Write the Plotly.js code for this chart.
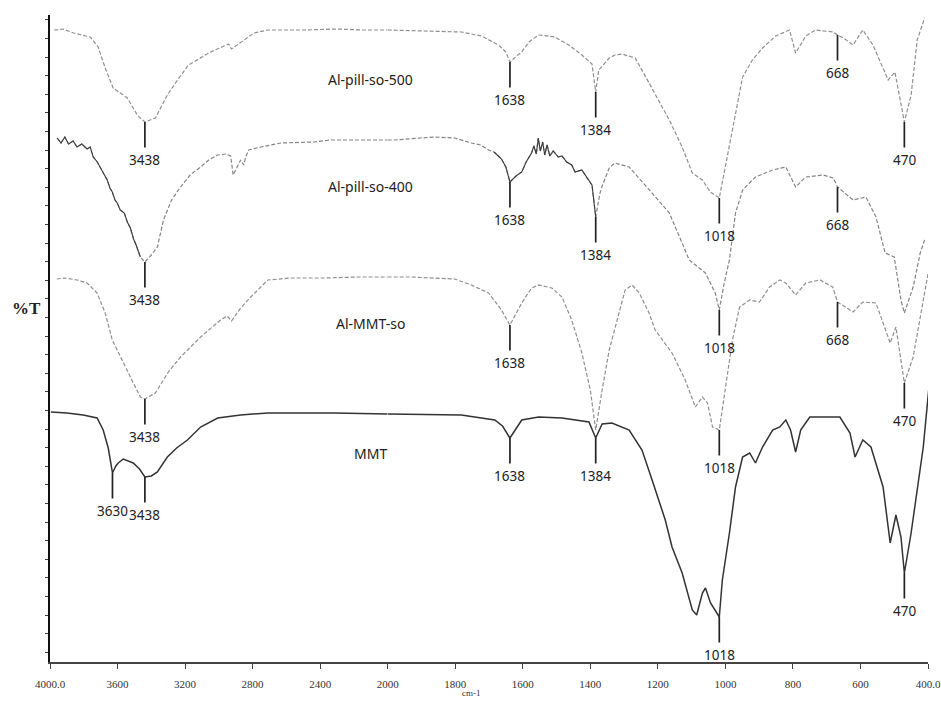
<!DOCTYPE html>
<html>
<head>
<meta charset="utf-8">
<script src="https://cdn.plot.ly/plotly-3.0.1.min.js"></script>
<style>
  html, body { margin: 0; padding: 0; background: #fff; }
  #chart { width: 941px; height: 702px; }
</style>
</head>
<body>
<div id="chart"></div>
<script>
// FTIR spectra, wavenumber (cm-1) against stacked transmittance (arbitrary units).
// The axis is split at 2000 cm-1: 4000-2000 compressed, 2000-400 expanded.

// Al-pill-so-500
const wn500 = [3975, 3923, 3860, 3762, 3715, 3673, 3626, 3542, 3483, 3438,
               3376, 3305, 3245, 3180, 3049, 2942, 2925, 2853, 2793, 2710,
               2500, 2300, 2157, 2000, 1782, 1722, 1672, 1650, 1638, 1615,
               1603, 1582, 1553, 1505, 1464, 1425, 1395, 1384, 1375, 1344,
               1327, 1306, 1267, 1226, 1166, 1128, 1098, 1068, 1044, 1018,
               1000, 979, 949, 920, 890, 851, 810, 792, 762, 733,
               680, 668, 650, 622, 593, 563, 518, 498, 480, 470,
               450, 432, 410];
const t500 = [632, 633, 629, 625, 615, 594, 574, 564, 547, 540,
              544, 567, 582, 597, 610, 618, 613, 622, 629, 632,
              632, 633, 632, 632, 630, 626, 617, 610, 600, 607,
              610, 620, 627, 625, 617, 607, 598, 570, 592, 604,
              607, 608, 604, 579, 542, 515, 489, 482, 470, 464,
              495, 535, 585, 602, 614, 626, 632, 609, 626, 632,
              630, 627, 624, 617, 632, 617, 582, 590, 560, 540,
              567, 622, 644];

// Al-pill-so-400
const wn400 = [3958, 3935, 3912, 3890, 3863, 3840, 3812, 3780, 3762, 3744,
               3720, 3700, 3685, 3661, 3645, 3631, 3615, 3602, 3584, 3560,
               3542, 3524, 3505, 3490, 3465, 3438, 3400, 3364, 3328, 3280,
               3227, 3170, 3108, 3060, 3007, 2960, 2930, 2915, 2871, 2853,
               2841, 2823, 2752, 2633, 2437, 2336, 2116, 2000, 1981, 1862,
               1802, 1752, 1725, 1701, 1685, 1663, 1650, 1638, 1620, 1603,
               1590, 1574, 1567, 1560, 1554, 1548, 1541, 1535, 1528, 1520,
               1510, 1495, 1484, 1470, 1455, 1445, 1425, 1410, 1395, 1384,
               1372, 1365, 1344, 1327, 1285, 1230, 1166, 1107, 1059, 1030,
               1018, 1004, 988, 970, 949, 911, 860, 821, 792, 762,
               711, 680, 668, 622, 584, 554, 527, 500, 480, 470,
               444, 423, 408];
const t400 = [524, 519, 525, 518, 521, 515, 518, 513, 515, 505,
              500, 494, 488, 482, 474, 470, 462, 459, 452, 449,
              440, 434, 423, 417, 405, 400, 407, 415, 442, 462,
              475, 487, 495, 502, 507, 508, 506, 487, 502, 497,
              505, 512, 515, 519, 520, 522, 522, 522, 522, 525,
              524, 519, 517, 512, 510, 503, 495, 480, 486, 490,
              500, 509, 516, 508, 524, 511, 520, 507, 517, 506,
              511, 505, 506, 500, 497, 490, 492, 484, 477, 445,
              468, 476, 494, 499, 495, 474, 449, 402, 389, 369,
              352, 378, 402, 449, 472, 485, 492, 495, 475, 485,
              487, 484, 475, 462, 465, 445, 409, 405, 362, 349,
              375, 409, 424];
// noisy stretches of the 400 spectrum, drawn darker
const darkBands400 = [[3958, 3445], [1700, 1380]];

// Al-MMT-so
const wnMMTso = [3960, 3911, 3840, 3780, 3721, 3673, 3631, 3584, 3524, 3465,
                 3438, 3376, 3299, 3227, 3108, 2990, 2950, 2925, 2871, 2811,
                 2710, 2573, 2377, 2175, 2000, 1930, 1802, 1752, 1701, 1663,
                 1638, 1603, 1574, 1553, 1514, 1484, 1455, 1425, 1400, 1384,
                 1365, 1344, 1315, 1297, 1276, 1255, 1226, 1208, 1158, 1119,
                 1089, 1068, 1053, 1038, 1018, 1000, 979, 958, 928, 899,
                 869, 839, 821, 792, 762, 720, 682, 668, 622, 593,
                 554, 533, 512, 495, 470, 444, 414, 399];
const tMMTso = [383, 384, 382, 379, 369, 349, 322, 305, 285, 265,
                263, 269, 290, 305, 325, 342, 346, 341, 354, 365,
                382, 384, 384, 385, 385, 385, 383, 377, 369, 352,
                337, 359, 374, 377, 374, 365, 342, 309, 272, 232,
                272, 312, 349, 372, 377, 369, 349, 332, 309, 282,
                255, 265, 259, 235, 232, 272, 322, 355, 362, 360,
                375, 382, 379, 367, 379, 382, 375, 360, 350, 360,
                359, 339, 319, 335, 279, 305, 362, 390];

// MMT
const wnMMT = [3995, 3900, 3804, 3721, 3685, 3655, 3643, 3630, 3610, 3596,
               3566, 3530, 3507, 3470, 3438, 3400, 3364, 3305, 3250, 3186,
               3108, 3007, 2871, 2710, 2318, 2000, 1782, 1683, 1660, 1638,
               1615, 1603, 1553, 1484, 1404, 1384, 1365, 1336, 1285, 1247,
               1217, 1187, 1178, 1158, 1128, 1098, 1085, 1068, 1059, 1044,
               1018, 1009, 988, 970, 949, 928, 911, 890, 860, 839,
               821, 807, 792, 777, 750, 661, 631, 616, 593, 569,
               533, 512, 495, 480, 470, 450, 414, 396];
const tMMT = [250, 249, 247, 244, 232, 214, 202, 189, 196, 199,
              203, 201, 199, 193, 185, 186, 190, 205, 214, 222,
              235, 244, 247, 249, 249, 248, 247, 242, 236, 224,
              236, 242, 245, 244, 240, 224, 238, 239, 232, 212,
              182, 152, 142, 115, 89, 52, 47, 69, 74, 59,
              45, 82, 129, 175, 205, 209, 199, 215, 232, 235,
              242, 232, 210, 232, 245, 245, 229, 205, 222, 215,
              175, 119, 147, 125, 89, 129, 215, 279];

// labelled band positions for each spectrum
const peaks500 = [3438, 1638, 1384, 1018, 668, 470];
const peaks400 = [3438, 1638, 1384, 1018, 668];
const peaksMMTso = [3438, 1638, 1018, 668, 470];
const peaksMMT = [3630, 3438, 1638, 1384, 1018, 470];

const names = ['Al-pill-so-500', 'Al-pill-so-400', 'Al-MMT-so', 'MMT'];
const nameY = [583, 476, 339, 209];

const leftTicks = [4000, 3600, 3200, 2800, 2400];
const leftTickText = ['4000.0', '3600', '3200', '2800', '2400'];
const rightTicks = [2000, 1800, 1600, 1400, 1200, 1000, 800, 600, 400];
const rightTickText = ['2000', '1800', '1600', '1400', '1200', '1000', '800', '600', '400.0'];

const SPLIT = 2000;

function valueAt(wn, t, w) {
  for (let i = 0; i < wn.length - 1; i++) {
    const a = wn[i], b = wn[i + 1];
    if (a >= w && w >= b) {
      if (a === b) return t[i];
      return t[i] + (t[i + 1] - t[i]) * (a - w) / (a - b);
    }
  }
  return t[t.length - 1];
}

function pick(wn, t, test) {
  const x = [], y = [];
  wn.forEach((w, i) => { if (test(w)) { x.push(w); y.push(t[i]); } });
  return { x, y };
}

const traces = [];
function addSpectrum(wn, t, line) {
  const L = pick(wn, t, w => w >= SPLIT);
  const R = pick(wn, t, w => w <= SPLIT);
  traces.push({ x: L.x, y: L.y, xaxis: 'x', yaxis: 'y', mode: 'lines', line, hoverinfo: 'skip' });
  traces.push({ x: R.x, y: R.y, xaxis: 'x2', yaxis: 'y', mode: 'lines', line, hoverinfo: 'skip' });
}

const grayLine = { color: '#909090', width: 1.2, dash: '4px,2px' };
addSpectrum(wn500, t500, grayLine);
addSpectrum(wn400, t400, { color: '#858585', width: 1.2, dash: '4px,2px' });
darkBands400.forEach(([hi, lo]) => {
  const seg = pick(wn400, t400, w => w <= hi && w >= lo);
  addSpectrum(seg.x, seg.y, { color: '#3c3c3c', width: 1.1 });
});
addSpectrum(wnMMTso, tMMTso, grayLine);
addSpectrum(wnMMT, tMMT, { color: '#333333', width: 1.5 });

const annotations = [];
const peakFont = { family: 'Noto Sans, sans-serif', size: 13.5, color: '#222' };
function addPeaks(wn, t, list) {
  list.forEach(p => {
    annotations.push({
      x: p, xref: p >= SPLIT ? 'x' : 'x2',
      y: valueAt(wn, t, p), yref: 'y',
      text: String(p), font: peakFont,
      showarrow: true, arrowhead: 0, arrowwidth: 1.7, arrowcolor: '#222',
      ax: 0, ay: 38, standoff: 0, startstandoff: 2
    });
  });
}
addPeaks(wn500, t500, peaks500);
addPeaks(wn400, t400, peaks400);
addPeaks(wnMMTso, tMMTso, peaksMMTso);
addPeaks(wnMMT, tMMT, peaksMMT);

names.forEach((n, i) => {
  annotations.push({
    x: 0.3645, xref: 'paper', y: nameY[i], yref: 'y',
    xanchor: 'center', yanchor: 'middle',
    text: n, showarrow: false,
    font: { family: 'Noto Sans, sans-serif', size: 14, color: '#222' }
  });
});

annotations.push({
  x: -0.0273, xref: 'paper', y: 0.547, yref: 'paper',
  xanchor: 'center', yanchor: 'middle',
  text: '<b>%T</b>', showarrow: false,
  font: { family: 'Liberation Serif, serif', size: 17, color: '#222' }
});
annotations.push({
  x: 0.48, xref: 'paper', y: -0.048, yref: 'paper',
  xanchor: 'center', yanchor: 'middle',
  text: 'cm-1', showarrow: false,
  font: { family: 'Liberation Serif, serif', size: 9, color: '#333' }
});

const tickFont = { family: 'Liberation Serif, serif', size: 11, color: '#333' };
const xBase = {
  showgrid: false, zeroline: false, showline: true,
  linecolor: '#444', linewidth: 1.5,
  ticks: 'outside', ticklen: 5, tickwidth: 1, tickcolor: '#444',
  tickfont: tickFont, ticklabelstandoff: 6, anchor: 'y', fixedrange: true
};

const layout = {
  width: 941, height: 702,
  margin: { l: 50, r: 13, t: 15, b: 40 },
  paper_bgcolor: '#ffffff', plot_bgcolor: '#ffffff',
  showlegend: false,
  xaxis: Object.assign({}, xBase, {
    domain: [0, 5 / 13], range: [4000, SPLIT],
    tickmode: 'array', tickvals: leftTicks, ticktext: leftTickText
  }),
  xaxis2: Object.assign({}, xBase, {
    domain: [5 / 13, 1], range: [SPLIT, 400],
    tickmode: 'array', tickvals: rightTicks, ticktext: rightTickText
  }),
  yaxis: {
    range: [0, 647], showgrid: false, zeroline: false,
    showline: true, linecolor: '#111', linewidth: 1.6,
    showticklabels: false, ticks: 'outside', ticklen: 3, tickwidth: 1,
    tickcolor: '#444', tick0: 419, dtick: 18.6, fixedrange: true
  },
  annotations
};

Plotly.newPlot('chart', traces, layout, { displayModeBar: false, staticPlot: true });
</script>
</body>
</html>
